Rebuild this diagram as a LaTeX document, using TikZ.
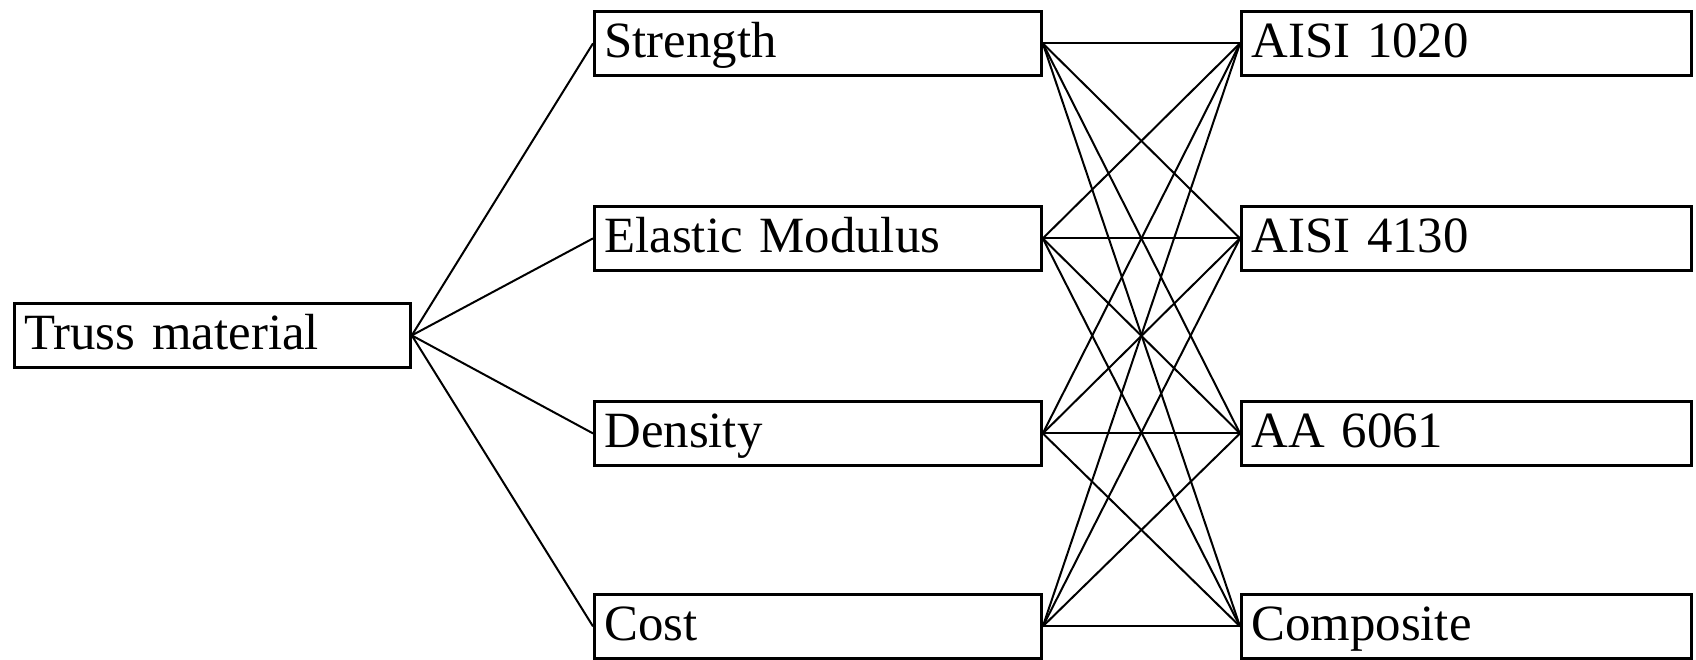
\documentclass[tikz,border=0pt]{standalone}
\usepackage{fontspec}
\setmainfont{Liberation Serif}
\begin{document}
\begin{tikzpicture}[x=0.5pt,y=-0.5pt,
  box/.style={draw, line width=1.4pt, rectangle, anchor=north west,
    inner xsep=5pt, inner ysep=0pt, text height=23pt, text depth=9pt,
    align=left, font=\fontsize{25.4}{30}\selectfont},
  crit/.style={box, text width=213.5pt},
  alt/.style={box, text width=215pt},
  link/.style={line width=1pt}]
\useasboundingbox (0,0) rectangle (1696,659);

% goal
\node[box, text width=188pt] (truss) at (13,302) {Truss material};

% criteria
\node[crit] (str) at (593,10)  {Strength};
\node[crit] (ela) at (593,205) {Elastic Modulus};
\node[crit] (den) at (593,400) {Density};
\node[crit] (cst) at (593,593) {Cost};

% alternatives
\node[alt] (a1) at (1240,10)  {AISI 1020};
\node[alt] (a2) at (1240,205) {AISI 4130};
\node[alt] (a3) at (1240,400) {AA 6061};
\node[alt] (a4) at (1240,593) {Composite};

% goal to criteria
\foreach \c in {str,ela,den,cst}
  \draw[link] (truss.east) -- (\c.west);

% every criterion to every alternative
\foreach \c in {str,ela,den,cst}
  \foreach \a in {a1,a2,a3,a4}
    \draw[link] (\c.east) -- (\a.west);
\end{tikzpicture}
\end{document}
